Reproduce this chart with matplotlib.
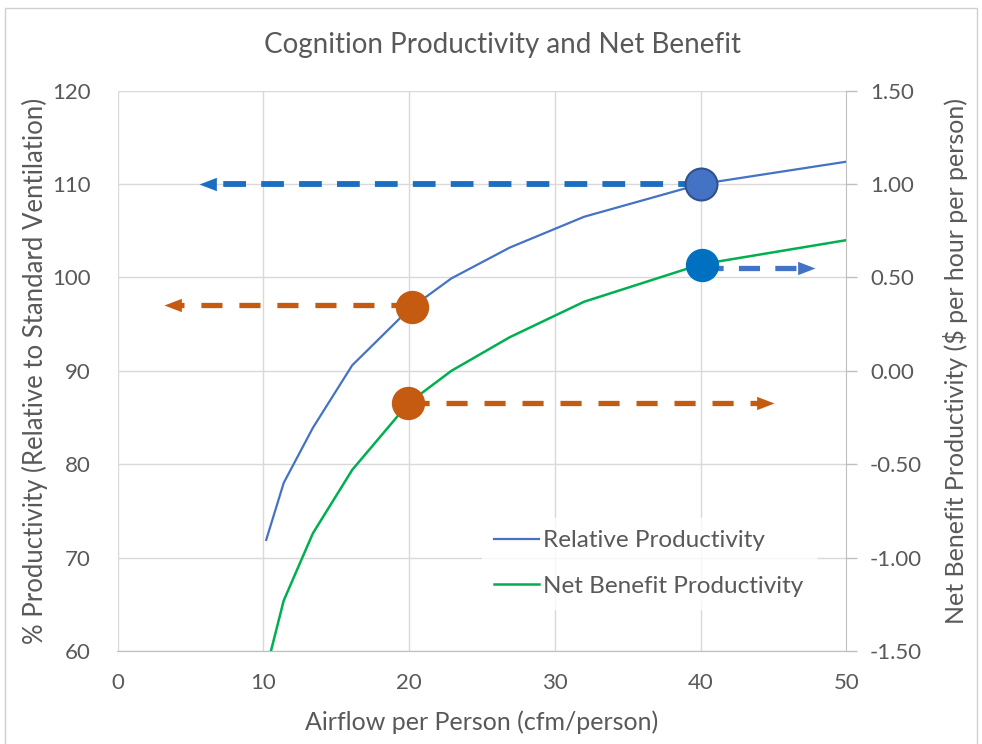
import matplotlib
matplotlib.use("Agg")
import matplotlib.pyplot as plt
from matplotlib.path import Path
from matplotlib.patches import Rectangle

# ---- data -------------------------------------------------------------
airflow = [10.2, 11.4, 13.4, 16.1, 20.0, 22.9, 26.9, 32.0, 40.0, 50.0]
relative_productivity = [71.9, 78.0, 83.9, 90.6, 96.6, 99.9, 103.2, 106.5, 110.0, 112.4]
net_benefit = [-1.60, -1.23, -0.87, -0.53, -0.17, 0.00, 0.18, 0.37, 0.57, 0.70]

x_ticks = [0, 10, 20, 30, 40, 50]
left_ticks = [60, 70, 80, 90, 100, 110, 120]
right_ticks = [-1.5, -1.0, -0.5, 0.0, 0.5, 1.0, 1.5]

# highlighted points: (airflow, value)
prod_point_40 = (40.0, 110.0)
prod_point_20 = (20.2, 96.8)
benefit_point_40 = (40.1, 0.565)
benefit_point_20 = (19.9, -0.17)

# arrow end positions along the airflow axis
prod_arrow_40_end = 5.6
prod_arrow_20_end = 3.2
benefit_arrow_20_end = 45.0
benefit_arrow_40_end = 47.85

# ---- style ------------------------------------------------------------
TEXT = "#595959"
GRID = "#D9D9D9"
AXIS = "#BFBFBF"
BLUE_LINE = "#4472C4"
GREEN_LINE = "#00B050"
ORANGE = "#C55A11"
DARK_BLUE = "#1B6EC2"
plt.rcParams["font.family"] = ["Lato", "DejaVu Sans"]

fig = plt.figure(figsize=(9.82, 7.44), dpi=100)
fig.patch.set_facecolor("white")
fig.add_artist(Rectangle((0.005, -0.01), 0.99, 1.0 - 8 / 744 + 0.01,
                         transform=fig.transFigure, fill=False,
                         edgecolor="#D0D0D0", lw=1.0))

ax = fig.add_axes([117.5 / 982, 1 - 651 / 744, 729 / 982, 560.3 / 744])
ax2 = ax.twinx()

ax.set_xlim(0, 50)
ax.set_ylim(60, 120)
ax2.set_ylim(-1.5, 1.5)
ax.set_xticks(x_ticks)
ax.set_yticks(left_ticks)
ax2.set_yticks(right_ticks)
ax.set_yticklabels([str(v) for v in left_ticks])
ax2.set_yticklabels([f"{v:.2f}" for v in right_ticks])

ax.grid(True, color=GRID, lw=1.0, zorder=0)
ax.set_axisbelow(True)
for a in (ax, ax2):
    for side in ("left", "top"):
        a.spines[side].set_visible(False)
    a.spines["bottom"].set_color(AXIS)
    a.spines["right"].set_color(AXIS)
ax.spines["right"].set_visible(False)

ax.tick_params(axis="x", length=0, pad=16, labelsize=16, labelcolor=TEXT)
ax.tick_params(axis="y", length=0, pad=19, labelsize=16, labelcolor=TEXT)
ax2.tick_params(axis="y", length=8, width=1, color=AXIS, direction="out",
                pad=9, labelsize=16, labelcolor=TEXT)

# ---- series -----------------------------------------------------------
l1, = ax.plot(airflow, relative_productivity, color=BLUE_LINE, lw=1.6,
              zorder=3, label="Relative Productivity")
l2, = ax2.plot(airflow, net_benefit, color=GREEN_LINE, lw=1.8,
               zorder=3, label="Net Benefit Productivity")


def head_marker(direction):
    if direction == "left":
        verts = [(0, 0), (1.3, 0.5), (1.3, -0.5), (0, 0)]
    else:
        verts = [(0, 0), (-1.3, 0.5), (-1.3, -0.5), (0, 0)]
    return Path(verts, [Path.MOVETO, Path.LINETO, Path.LINETO, Path.CLOSEPOLY])


def dashed_arrow(a, x0, x1, y, color, lw=4.0, dashes=(3.9, 2.7), head=25):
    direction = "left" if x1 < x0 else "right"
    back = 0.9 if direction == "left" else -0.9
    a.plot([x0, x1 + back], [y, y], color=color, lw=lw, dashes=dashes,
           solid_capstyle="butt", dash_capstyle="butt", zorder=4)
    a.plot([x1], [y], linestyle="none", marker=head_marker(direction),
           markersize=head, color=color, markeredgewidth=0, zorder=4)


dashed_arrow(ax, prod_point_40[0], prod_arrow_40_end, prod_point_40[1], DARK_BLUE,
             lw=4.2, dashes=(3.9, 2.6))
dashed_arrow(ax, prod_point_20[0], prod_arrow_20_end, prod_point_20[1] + 0.3, ORANGE,
             lw=3.8, dashes=(4.0, 3.2))
dashed_arrow(ax2, benefit_point_20[0], benefit_arrow_20_end, benefit_point_20[1], ORANGE,
             lw=3.8, dashes=(4.0, 3.2))
dashed_arrow(ax2, benefit_point_40[0], benefit_arrow_40_end, benefit_point_40[1] - 0.015,
             BLUE_LINE, lw=3.8, dashes=(4.0, 2.9))

ax.plot(*prod_point_40, "o", markersize=23, color=BLUE_LINE,
        markeredgecolor="#2F528F", markeredgewidth=1.5, zorder=5)
ax.plot(*prod_point_20, "o", markersize=23, color=ORANGE,
        markeredgecolor=ORANGE, zorder=5)
ax2.plot(*benefit_point_40, "o", markersize=23, color="#0070C0",
         markeredgecolor="#0070C0", zorder=5)
ax2.plot(*benefit_point_20, "o", markersize=23, color=ORANGE,
         markeredgecolor=ORANGE, zorder=5)

leg = ax2.legend(handles=[l1, l2], loc="center",
                 bbox_to_anchor=(0.729, 0.156), frameon=True, fontsize=17.5,
                 handlelength=1.85, handletextpad=0.16, labelspacing=1.0,
                 borderpad=0.5, fancybox=False)
leg.get_frame().set_facecolor("white")
leg.get_frame().set_edgecolor("white")
for t in leg.get_texts():
    t.set_color(TEXT)
leg.set_zorder(10)

# ---- text -------------------------------------------------------------
fig.text(503 / 982, 1 - 45 / 744, "Cognition Productivity and Net Benefit",
         ha="center", va="center", fontsize=20, color=TEXT)
fig.text(482 / 982, 1 - 722 / 744, "Airflow per Person (cfm/person)",
         ha="center", va="center", fontsize=18, color=TEXT)
fig.text(35 / 982, 1 - 371 / 744,
         "% Productivity (Relative to Standard Ventilation)",
         ha="center", va="center", rotation=90, fontsize=18.5, color=TEXT)
fig.text(955 / 982, 1 - 361 / 744,
         "Net Benefit Productivity ($ per hour per person)",
         ha="center", va="center", rotation=90, fontsize=18, color=TEXT)

fig.savefig("out.png", dpi=100, facecolor="white")
